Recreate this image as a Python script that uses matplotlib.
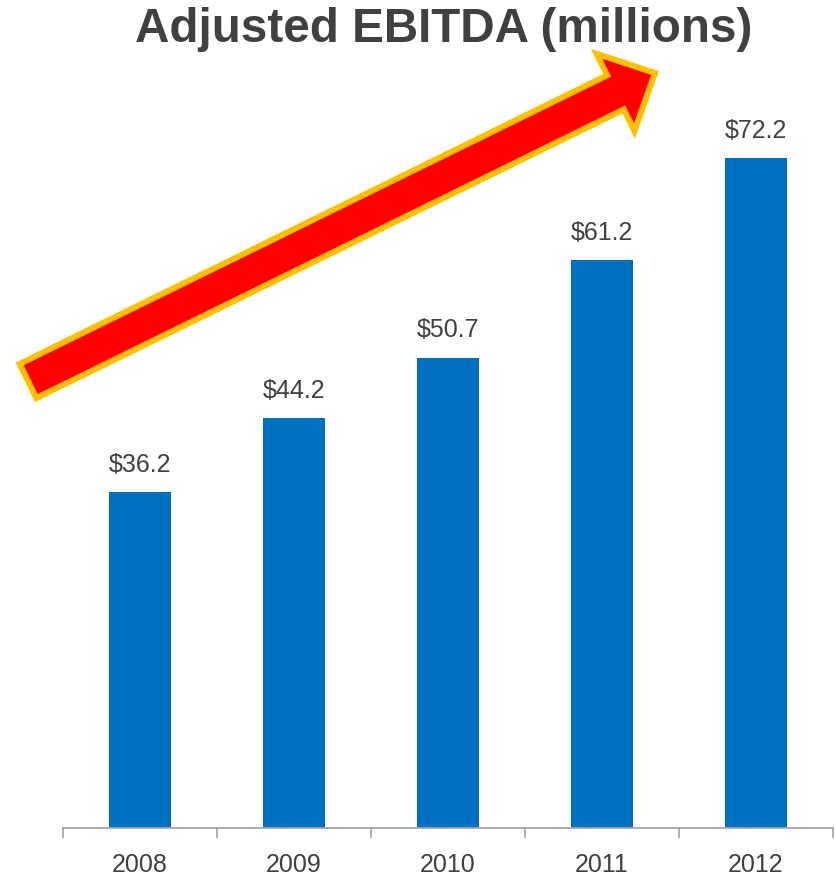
import matplotlib
matplotlib.use("Agg")
import matplotlib.pyplot as plt
from matplotlib.patches import FancyArrow

years = ["2008", "2009", "2010", "2011", "2012"]
ebitda = [36.2, 44.2, 50.7, 61.2, 72.2]
labels = ["$36.2", "$44.2", "$50.7", "$61.2", "$72.2"]

plt.rcParams['font.family'] = ['Liberation Sans', 'DejaVu Sans']
text_col = '#404040'

fig = plt.figure(figsize=(8.37, 8.76), dpi=100)
ax = fig.add_axes([63/837, 48/876, 770/837, 742/876])

x = range(len(years))
bars = ax.bar(x, ebitda, width=0.40, color='#0070C0')
for xi, v, lab in zip(x, ebitda, labels):
    ax.annotate(lab, (xi, v), xytext=(0, 11), textcoords='offset points',
                ha='center', va='bottom', fontsize=18, color=text_col)

ax.set_xlim(-0.5, 4.5)
ax.set_ylim(0, 80)
ax.set_yticks([])
ax.set_xticks(list(x))
ax.set_xticklabels(years, fontsize=18, color=text_col)
ax.tick_params(axis='x', which='major', length=0, pad=18)
ax.set_xticks([i - 0.5 for i in range(len(years) + 1)], minor=True)
ax.tick_params(axis='x', which='minor', length=7, width=1.3, color='#A6A6A6', direction='out')
for s in ['left', 'right', 'top']:
    ax.spines[s].set_visible(False)
ax.spines['bottom'].set_color('#A6A6A6')
ax.spines['bottom'].set_linewidth(1.3)

fig.text(444/837, 1 - 29/876, "Adjusted EBITDA (millions)", ha='center', va='center',
         fontsize=34.3, fontweight='bold', color=text_col)

# trend arrow, drawn in inches from the lower left of the figure
arr = FancyArrow(0.28, 4.95, 6.27, 3.08, width=0.38, head_width=0.86,
                 head_length=0.44, length_includes_head=True,
                 facecolor='#FF0000', edgecolor='#FFC000', linewidth=4.3,
                 joinstyle='miter', transform=fig.dpi_scale_trans, zorder=5)
fig.patches.append(arr)

fig.savefig("out.png", dpi=100)
